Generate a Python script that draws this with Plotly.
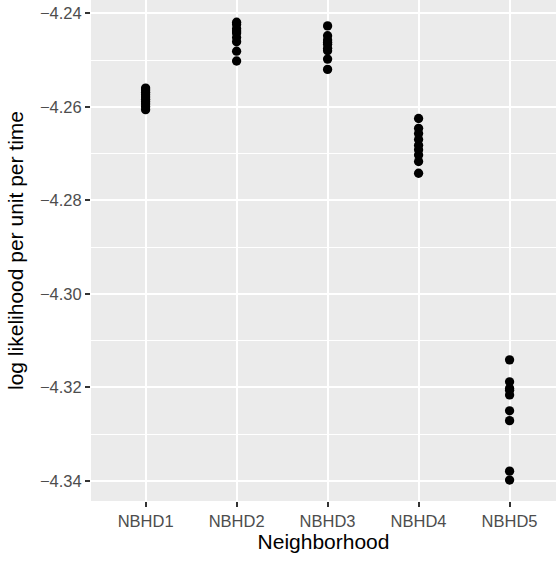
import plotly.graph_objects as go

categories = ["NBHD1", "NBHD2", "NBHD3", "NBHD4", "NBHD5"]
nbhd1 = [-4.2560, -4.2564, -4.2569, -4.2574, -4.2579, -4.2584, -4.2589, -4.2594, -4.2600, -4.2606]
nbhd2 = [-4.2419, -4.2424, -4.2433, -4.2438, -4.2442, -4.2452, -4.2461, -4.2481, -4.2502]
nbhd3 = [-4.2427, -4.2448, -4.2457, -4.2462, -4.2466, -4.2475, -4.2480, -4.2498, -4.2520]
nbhd4 = [-4.2625, -4.2646, -4.2657, -4.2670, -4.2682, -4.2692, -4.2703, -4.2717, -4.2742]
nbhd5 = [-4.3141, -4.3188, -4.3202, -4.3206, -4.3216, -4.3250, -4.3271, -4.3379, -4.3398]
series = [nbhd1, nbhd2, nbhd3, nbhd4, nbhd5]
y_ticks = [-4.34, -4.32, -4.30, -4.28, -4.26, -4.24]

xs, ys = [], []
for i, vals in enumerate(series):
    xs += [i + 1] * len(vals)
    ys += vals

fig = go.Figure(go.Scatter(
    x=xs, y=ys, mode="markers",
    marker=dict(color="black", size=9.3, line=dict(width=0)),
    hoverinfo="skip", showlegend=False,
))

font = "Liberation Sans, Arial, Helvetica, sans-serif"
fig.update_layout(
    width=556, height=561,
    margin=dict(l=91, r=0, t=0, b=60),
    paper_bgcolor="white", plot_bgcolor="#EBEBEB",
    font=dict(family=font, color="#4D4D4D", size=16.5),
)
fig.update_xaxes(
    range=[0.4, 5.51], automargin=False,
    tickmode="array", tickvals=[1, 2, 3, 4, 5], ticktext=categories,
    showgrid=True, gridcolor="white", gridwidth=1.5,
    zeroline=False, showline=False,
    ticks="outside", ticklen=5, tickwidth=1.5, tickcolor="#333333",
    tickfont=dict(size=16.5, color="#4D4D4D"),
    title=dict(text="Neighborhood", font=dict(size=21, color="black"), standoff=2),
)
fig.update_yaxes(
    range=[-4.34428, -4.23716], automargin=False,
    tickmode="array", tickvals=y_ticks, tickformat=".2f",
    showgrid=True, gridcolor="white", gridwidth=1.5,
    minor=dict(tickmode="array", tickvals=[-4.35, -4.33, -4.31, -4.29, -4.27, -4.25],
               showgrid=True, gridcolor="white", gridwidth=0.75, ticks=""),
    zeroline=False, showline=False,
    ticks="outside", ticklen=5, tickwidth=1.5, tickcolor="#333333",
    tickfont=dict(size=16.5, color="#4D4D4D"),
    title=dict(text="log likelihood per unit per time", font=dict(size=21, color="black"), standoff=10),
)

fig.write_html(
    "out.html",
    config={"displayModeBar": False},
    post_script="document.body.style.margin='0';document.body.style.overflow='hidden';",
)
